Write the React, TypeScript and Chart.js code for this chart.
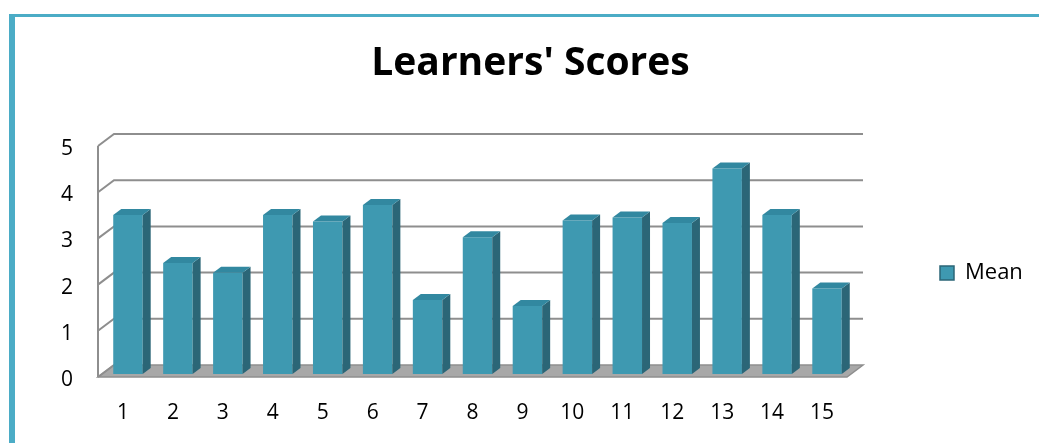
import React, { useEffect, useRef } from 'react';
import { Chart, registerables } from 'chart.js';

Chart.register(...registerables);

// ---- data ----
const categories = ['1', '2', '3', '4', '5', '6', '7', '8', '9', '10', '11', '12', '13', '14', '15'];
const meanScores = [3.44, 2.40, 2.19, 3.44, 3.30, 3.66, 1.60, 2.96, 1.47, 3.32, 3.39, 3.27, 4.45, 3.44, 1.85];
const yTickValues = [0, 1, 2, 3, 4, 5];
const seriesLabel = 'Mean';
const chartTitle = "Learners' Scores";

// ---- layout / style ----
const W = 1039;
const H = 443;
const PLOT_LEFT = 98;
const PLOT_RIGHT = 847;
const PLOT_BOTTOM = 377;
const TITLE_CENTER_X = 530.5;
const WALL_DX = 16;
const WALL_DY = -12;
const BAR_DX = 5;
const BAR_DY = -3;
const SIDE_DX = 8;
const SIDE_DY = -6;
const FONT = "'Open Sans', Lato, sans-serif";
const TICK_SIZE = 21;
const LEGEND_FONT_SIZE = 22;
const LEGEND_BOX = 14;
const LEGEND_PAD = 93;
const FRONT = '#3E99B1';
const TOP = '#3288A0';
const SIDE = '#2B6677';
const GRID = '#8E8E8E';

const threeDPlugin = {
  id: 'threeD',
  beforeDraw(chart: any) {
    const { ctx, width, height } = chart;
    ctx.save();
    ctx.fillStyle = '#ffffff';
    ctx.fillRect(0, 0, width, height);
    ctx.fillStyle = '#4BACC6';
    ctx.fillRect(9, 14, 6, height - 14);
    ctx.fillRect(9, 14, width - 9, 3);
    ctx.restore();
  },
  beforeDatasetsDraw(chart: any) {
    const { ctx, chartArea: a, scales } = chart;
    const y = scales.y;
    const y0 = y.getPixelForValue(0);
    const yMax = y.getPixelForValue(yTickValues[yTickValues.length - 1]);
    ctx.save();
    // floor
    ctx.beginPath();
    ctx.moveTo(a.left, y0);
    ctx.lineTo(a.right, y0);
    ctx.lineTo(a.right + WALL_DX, y0 + WALL_DY);
    ctx.lineTo(a.left + WALL_DX, y0 + WALL_DY);
    ctx.closePath();
    ctx.fillStyle = '#A8A8A8';
    ctx.fill();
    ctx.strokeStyle = GRID;
    ctx.lineWidth = 1.5;
    ctx.stroke();
    // gridlines on the back wall with diagonals to the front axis
    ctx.lineWidth = 2;
    ctx.strokeStyle = GRID;
    for (const v of yTickValues) {
      const py = y.getPixelForValue(v);
      ctx.beginPath();
      ctx.moveTo(a.left, py);
      ctx.lineTo(a.left + WALL_DX, py + WALL_DY);
      if (v !== 0) ctx.lineTo(a.right + WALL_DX, py + WALL_DY);
      ctx.stroke();
    }
    // front vertical axis
    ctx.beginPath();
    ctx.moveTo(a.left, yMax);
    ctx.lineTo(a.left, y0);
    ctx.stroke();
    ctx.restore();
    // bars drawn slightly back in depth
    ctx.save();
    ctx.translate(BAR_DX, BAR_DY);
  },
  afterDatasetsDraw(chart: any) {
    const { ctx } = chart;
    const meta = chart.getDatasetMeta(0);
    meta.data.forEach((bar: any) => {
      const { x, y, width, base } = bar.getProps(['x', 'y', 'width', 'base'], true);
      const l = x - width / 2;
      const r = x + width / 2;
      // side face
      ctx.beginPath();
      ctx.moveTo(r, y);
      ctx.lineTo(r + SIDE_DX, y + SIDE_DY);
      ctx.lineTo(r + SIDE_DX, base + SIDE_DY);
      ctx.lineTo(r, base);
      ctx.closePath();
      ctx.fillStyle = SIDE;
      ctx.fill();
      // top face
      ctx.beginPath();
      ctx.moveTo(l, y);
      ctx.lineTo(r, y);
      ctx.lineTo(r + SIDE_DX, y + SIDE_DY);
      ctx.lineTo(l + SIDE_DX, y + SIDE_DY);
      ctx.closePath();
      ctx.fillStyle = TOP;
      ctx.fill();
    });
    ctx.restore();
  },
};

export default function App() {
  const ref = useRef<HTMLCanvasElement>(null);

  useEffect(() => {
    document.body.style.margin = '0';
    const canvas = ref.current as HTMLCanvasElement;
    const mctx = canvas.getContext('2d') as CanvasRenderingContext2D;
    mctx.font = `${LEGEND_FONT_SIZE}px ${FONT}`;
    const tw = mctx.measureText(seriesLabel).width;
    const legendWidth = LEGEND_BOX + LEGEND_FONT_SIZE / 2 + tw + LEGEND_PAD + 10;
    const padRight = W - PLOT_RIGHT - legendWidth;
    const padLeft = 2 * TITLE_CENTER_X - W + padRight;

    const chart = new Chart(canvas, {
      type: 'bar',
      data: {
        labels: categories,
        datasets: [
          {
            label: seriesLabel,
            data: meanScores,
            backgroundColor: FRONT,
            borderWidth: 0,
            barPercentage: 0.59,
            categoryPercentage: 1,
            clip: false as any,
          },
        ],
      },
      options: {
        responsive: true,
        maintainAspectRatio: false,
        animation: false,
        layout: { padding: { left: padLeft, right: padRight, top: 0, bottom: 0 } },
        plugins: {
          title: {
            display: true,
            text: chartTitle,
            color: '#000000',
            font: { family: FONT, size: 39, weight: 'bold' },
            padding: { top: 40, bottom: 59.2 },
          },
          legend: {
            position: 'right',
            align: 'end',
            fullSize: false,
            labels: {
              color: '#000000',
              font: { family: FONT, size: LEGEND_FONT_SIZE },
              boxWidth: LEGEND_BOX,
              boxHeight: LEGEND_BOX,
              padding: LEGEND_PAD,
              generateLabels: () => [
                {
                  text: seriesLabel,
                  fillStyle: FRONT,
                  strokeStyle: SIDE,
                  lineWidth: 1.5,
                  hidden: false,
                  datasetIndex: 0,
                } as any,
              ],
            },
          },
          tooltip: { enabled: false },
        },
        scales: {
          x: {
            grid: { display: false, drawTicks: false },
            border: { display: false },
            ticks: { color: '#000000', font: { family: FONT, size: TICK_SIZE }, padding: 23 },
            afterFit: (s: any) => {
              s.height = H - PLOT_BOTTOM;
            },
          },
          y: {
            min: 0,
            max: 5,
            grid: { display: false, drawTicks: false },
            border: { display: false },
            ticks: {
              color: '#000000',
              font: { family: FONT, size: TICK_SIZE },
              padding: 25,
              labelOffset: 3,
            },
            afterBuildTicks: (s: any) => {
              s.ticks = yTickValues.map((v) => ({ value: v }));
            },
            afterFit: (s: any) => {
              s.width = PLOT_LEFT - padLeft;
            },
          },
        },
      } as any,
      plugins: [threeDPlugin],
    });

    return () => chart.destroy();
  }, []);

  return (
    <div style={{ position: 'fixed', left: 0, top: 0, width: W, height: H }}>
      <canvas ref={ref} />
    </div>
  );
}
